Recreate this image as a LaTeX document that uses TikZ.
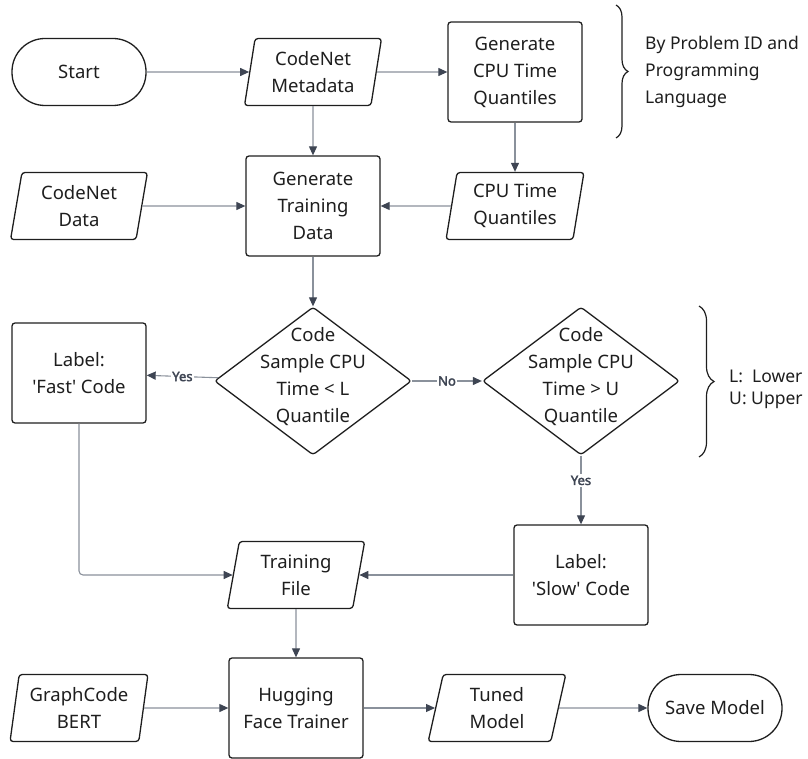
\documentclass[tikz,border=0pt]{standalone}
\usepackage{fontspec}
\setmainfont{Noto Sans}
\newfontfamily\yesfont{Noto Sans}[FakeBold=2.5]
\usetikzlibrary{shapes.geometric, arrows.meta, decorations.pathreplacing, positioning}

\definecolor{linegray}{HTML}{8A919B}
\definecolor{tipgray}{HTML}{3E4553}
\definecolor{inkblack}{HTML}{1E1E1E}

\tikzset{
  base/.style={draw=inkblack, line width=1.3pt, align=center, text=inkblack,
    font=\fontsize{18.5}{27}\selectfont},
  process/.style={base, rectangle, rounded corners=3pt, minimum width=134pt, minimum height=100pt},
  io/.style={base, trapezium, trapezium left angle=81, trapezium right angle=99,
    trapezium stretches=true, rounded corners=3pt, minimum width=138pt, minimum height=67pt, inner xsep=0pt},
  terminal/.style={base, rectangle, rounded corners=33pt, minimum width=134pt, minimum height=67pt},
  decision/.style={draw=inkblack, line width=1.3pt, diamond, rounded corners=3pt,
    minimum width=197pt, minimum height=148pt, inner sep=0pt},
  dectext/.style={align=center, text=inkblack, font=\fontsize{18.5}{27}\selectfont},
  flow/.style={draw=linegray, line width=1.1pt, -{Triangle[length=9pt, width=8pt, color=tipgray]}},
  yesno/.style={fill=white, text=tipgray, inner sep=1.5pt, font=\yesfont\fontsize{13}{15}\selectfont},
  note/.style={align=left, text=inkblack, anchor=west, inner xsep=0pt},
  bracket/.style={draw=inkblack, line width=1.2pt, decorate}
}

\begin{document}
\begin{tikzpicture}[x=1pt, y=-1pt]
  \useasboundingbox (0,0) rectangle (808,759);

  \node[terminal] (start) at (79,72) {Start};
  \node[io] (meta) at (313,72) {CodeNet\\Metadata};
  \node[process] (cpubox) at (515,72) {Generate\\CPU Time\\Quantiles};
  \node[io] (cnd) at (79,206) {CodeNet\\Data};
  \node[process] (gtd) at (313,206) {Generate\\Training\\Data};
  \node[io] (cpuq) at (515,206) {CPU Time\\Quantiles};

  \node[decision] (dec1) at (313,381) {};
  \node[dectext] (dec1text) at (313,377) {Code\\Sample CPU\\Time < L\\Quantile};
  \node[decision] (dec2) at (581,381) {};
  \node[dectext] (dec2text) at (581,377) {Code\\Sample CPU\\Time > U\\Quantile};
  \node[process] (fast) at (79,373) {Label:\\\textquotesingle Fast\textquotesingle\ Code};
  \node[process] (slow) at (581,575) {Label:\\\textquotesingle Slow\textquotesingle\ Code};

  \node[io] (tfile) at (296,575) {Training\\File};
  \node[io] (gcb) at (79,708) {GraphCode\\BERT};
  \node[process] (hft) at (296,708) {Hugging\\Face Trainer};
  \node[io] (tuned) at (497,708) {Tuned\\Model};
  \node[terminal] (save) at (715,708) {Save Model};

  \draw[bracket, decoration={brace, amplitude=12pt}] (616,5) -- (616,138);
  \node[note, font=\fontsize{17.5}{27}\selectfont] (bynote) at (645,72) {By Problem ID and\\Programming\\Language};
  \draw[bracket, decoration={brace, amplitude=15pt}] (699,306) -- (699,457);
  \node[note, font=\fontsize{17.5}{22}\selectfont] (lunote) at (729,389) {L:\ \ Lower\\U: Upper};

  \draw[flow] (start) -- (meta);
  \draw[flow] (meta) -- (cpubox);
  \draw[flow] (meta) -- (gtd);
  \draw[flow] (cpubox) -- (cpuq);
  \draw[flow] (cnd) -- (gtd);
  \draw[flow] (cpuq) -- (gtd);
  \draw[flow] (gtd) -- (dec1);
  \draw[flow] (dec1) -- node[yesno] {Yes} (fast);
  \draw[flow] (dec1) -- node[yesno] {No} (dec2);
  \draw[flow] (dec2) -- node[yesno, pos=0.36] {Yes} (slow);
  \draw[flow, rounded corners=4pt] (fast) |- (tfile);
  \draw[flow] (slow) -- (tfile);
  \draw[flow] (tfile) -- (hft);
  \draw[flow] (gcb) -- (hft);
  \draw[flow] (hft) -- (tuned);
  \draw[flow] (tuned) -- (save);
\end{tikzpicture}
\end{document}
